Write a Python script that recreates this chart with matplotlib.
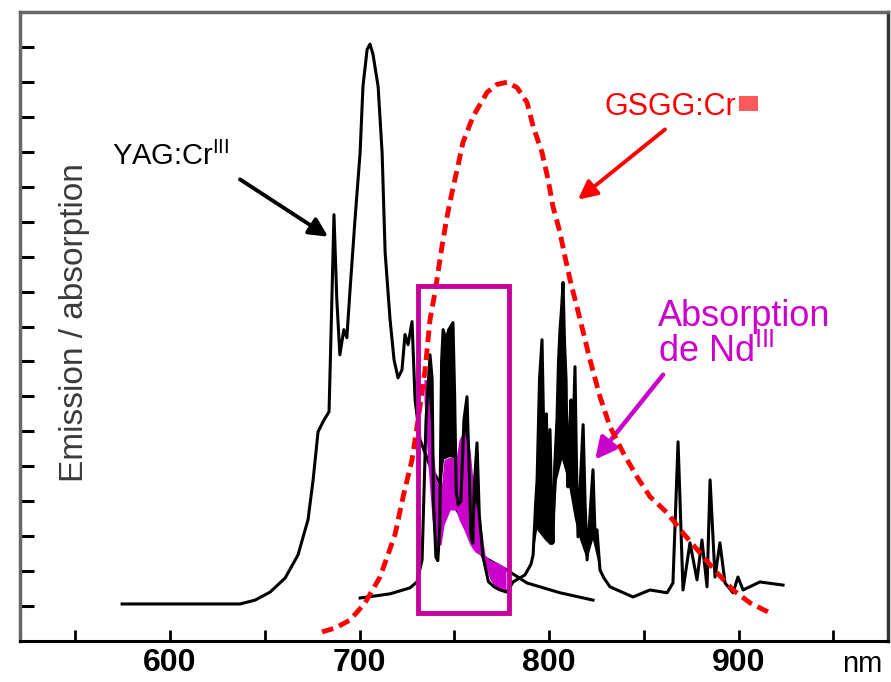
import numpy as np
import matplotlib
matplotlib.use("Agg")
import matplotlib.pyplot as plt
from matplotlib.patches import Rectangle

plt.rcParams['font.family'] = ['Liberation Sans', 'DejaVu Sans']
plt.rcParams['mathtext.default'] = 'regular'

#-----------------------------------------------------------------------------#
# data

# YAG:Cr emission (black)
yag_nm = [574.7, 636.9, 644.9, 652.8, 660.7, 667.5, 672.8, 675.5, 678.1, 681.3,
          683.9, 685.0, 686.5, 688.0, 689.6, 691.7, 693.3, 695.0, 697.6, 700.3,
          701.8, 704.0, 705.5, 707.1, 709.8, 711.9, 713.5, 716.1, 718.2, 720.3,
          722.4, 724.0, 725.6, 727.7, 729.3, 731.9, 737.2, 745.1, 753.0, 758.3,
          765.2, 777.8, 788.4, 805.8, 823.2]
yag_val = [1.06, 1.06, 1.17, 1.40, 1.80, 2.46, 3.47, 4.61, 5.99, 6.33,
           6.56, 8.91, 12.20, 9.77, 8.19, 8.91, 8.68, 10.06, 12.06, 13.98,
           15.87, 16.93, 17.08, 16.79, 15.87, 13.98, 11.12, 9.20, 8.05, 7.53,
           7.76, 8.77, 8.48, 9.14, 6.90, 5.76, 5.01, 4.27, 3.61, 3.04,
           2.41, 2.03, 1.66, 1.38, 1.17]

# Nd absorption (black)
nd_nm = [700.3, 716.1, 726.6, 730.3, 733.0, 735.1, 737.2, 738.3, 739.0, 740.3,
         741.3, 742.3, 743.3, 744.1, 745.7, 747.0, 749.3, 750.2, 751.0, 752.0,
         753.5, 755.1, 756.7, 757.8, 758.8, 759.8, 760.6, 762.0, 763.2, 765.2,
         768.0, 771.0, 774.1, 777.8, 781.0, 787.3, 790.5, 791.6, 793.0, 793.7,
         795.0, 796.3, 797.2, 797.9, 798.6, 799.4, 800.5, 801.3, 802.1, 803.0,
         804.2, 805.0, 805.8, 806.6, 807.4, 808.2, 809.0, 809.6, 810.0, 810.8,
         811.6, 812.5, 813.7, 814.5, 815.3, 816.5, 818.0, 819.0, 820.1, 821.5,
         823.2, 824.3, 825.3, 826.9, 829.0, 832.2, 844.3, 853.3, 862.3, 865.4,
         868.1, 870.7, 874.4, 878.1, 880.7, 883.4, 885.0, 887.6, 890.2, 892.9,
         897.1, 899.7, 902.4, 911.3, 923.5]
nd_val = [1.23, 1.35, 1.52, 1.69, 2.32, 6.33, 8.19, 7.50, 4.00, 2.40,
          2.30, 3.20, 8.00, 8.91, 8.62, 8.90, 9.11, 7.00, 4.30, 3.90,
          4.00, 6.33, 6.99, 5.00, 3.00, 2.80, 4.50, 5.67, 3.60, 2.40,
          1.70, 1.55, 1.46, 1.40, 1.69, 1.89, 2.20, 2.46, 4.00, 4.61,
          7.50, 8.62, 6.00, 5.20, 6.50, 4.50, 6.05, 4.00, 2.81, 5.00,
          6.33, 8.00, 8.91, 9.50, 10.26, 8.50, 7.48, 5.00, 4.41, 6.00,
          6.90, 5.50, 7.85, 5.00, 2.98, 4.50, 6.19, 4.00, 2.32, 3.50,
          4.90, 3.00, 3.18, 2.03, 1.80, 1.55, 1.26, 1.46, 1.38, 1.66,
          5.70, 1.46, 2.81, 1.75, 2.89, 1.55, 4.61, 1.83, 2.81, 1.66,
          1.38, 1.83, 1.46, 1.69, 1.60]

# magenta overlap band inside the window (upper and lower edge)
ovl_nm = [734.0, 736.1, 738.3, 740.4, 743.0, 744.6, 747.8, 750.9, 752.5, 755.1,
          758.3, 760.9, 763.6, 766.2, 768.9, 773.1, 777.3]
ovl_top = [7.48, 7.48, 5.76, 4.61, 4.33, 5.19, 5.27, 5.19, 5.76, 6.05,
           5.47, 4.04, 3.47, 2.46, 2.32, 2.23, 2.09]
ovl_low = [6.90, 5.04, 3.47, 2.75, 2.75, 3.32, 3.75, 3.75, 3.47, 3.18,
           2.75, 2.55, 2.46, 2.18, 1.75, 1.46, 1.40]

# lower edge of the dense 790-830 nm line cluster
clu_nm = [791.6, 793.7, 797.9, 800.5, 802.1, 804.2, 806.9, 810.0, 813.7, 816.4,
          820.1, 823.2, 826.9]
clu_floor = [2.46, 3.18, 2.89, 2.75, 2.75, 4.61, 5.19, 4.61, 3.47, 2.89,
             2.32, 2.89, 2.03]

# GSGG:Cr emission (red dashed)
gsgg_nm = [680.2, 687.1, 695.0, 702.9, 710.8, 718.7, 723.0, 727.7, 730.9, 734.6,
           737.2, 739.8, 743.5, 746.2, 748.8, 751.5, 754.6, 759.9, 767.3, 772.6,
           777.8, 783.1, 788.4, 791.6, 796.3, 799.5, 802.1, 805.8, 808.4, 811.1,
           816.4, 821.6, 826.9, 832.2, 839.1, 846.4, 853.3, 862.3, 870.7, 879.7,
           888.7, 897.1, 906.1, 915.6]
gsgg_val = [0.26, 0.37, 0.60, 1.09, 1.83, 3.04, 4.13, 5.19, 6.33, 7.76,
            9.20, 9.97, 11.29, 12.15, 12.84, 13.49, 14.27, 15.01, 15.70, 15.93,
            15.99, 15.84, 15.41, 14.73, 13.98, 13.21, 12.43, 11.69, 11.00, 10.34,
            9.20, 8.05, 6.99, 6.13, 5.39, 4.70, 4.13, 3.67, 3.09, 2.52,
            1.95, 1.46, 1.09, 0.83]

# highlighted window
box_nm = [730.9, 778.9]
box_val = [0.80, 10.17]

xticks_major = [600, 700, 800, 900]
xticks_minor = [550, 650, 750, 850, 950]
yticks = np.arange(1, 18)

red = '#FF0000'
mag = '#CC00CC'
boxcol = '#C8009B'

#-----------------------------------------------------------------------------#
# figure

fig = plt.figure(figsize=(8.91, 6.82), dpi=100)
ax = fig.add_axes([20/891, 41/682, 868/891, 629/682])
ax.set_xlim(520.8, 978.9)
ax.set_ylim(0, 18)

ax.plot(yag_nm, yag_val, '-', color='k', lw=2.2, zorder=2)

# window: magenta band, black where the Nd lines stick out above it
ax.fill_between(ovl_nm, ovl_low, ovl_top, color=mag, lw=0, zorder=3)
g1 = np.linspace(ovl_nm[0], ovl_nm[-1], 800)
top_i = np.interp(g1, ovl_nm, ovl_top)
ab1 = np.interp(g1, nd_nm, nd_val)
ax.fill_between(g1, top_i, ab1, where=ab1 > top_i, interpolate=True,
                color='k', lw=0, zorder=3)

# dense cluster 790-830 nm
g2 = np.linspace(clu_nm[0], clu_nm[-1], 800)
fl_i = np.interp(g2, clu_nm, clu_floor)
ab2 = np.interp(g2, nd_nm, nd_val)
ax.fill_between(g2, fl_i, ab2, where=ab2 > fl_i, interpolate=True,
                color='k', lw=0, zorder=3)

ax.plot(nd_nm, nd_val, '-', color='k', lw=2.2, zorder=3.5)
ax.plot(gsgg_nm, gsgg_val, '--', color=red, lw=3.5, dashes=(2.4, 1.3),
        dash_capstyle='butt', zorder=4)

ax.add_patch(Rectangle((box_nm[0], box_val[0]), box_nm[1]-box_nm[0],
                       box_val[1]-box_val[0], fill=False, ec=boxcol, lw=3.5,
                       zorder=5))

#-----------------------------------------------------------------------------#
# labels and arrows

ax.text(569.4, 13.87, 'YAG:Cr$^{III}$', fontsize=21, va='center', ha='left')
ax.annotate('', xy=(683.4, 11.57), xytext=(636.9, 13.21),
            arrowprops=dict(arrowstyle='-|>', color='k', lw=2.8,
                            mutation_scale=28, shrinkA=0, shrinkB=0))

ax.text(829.5, 15.27, 'GSGG:Cr', fontsize=22, color=red, va='center', ha='left')
ax.add_patch(Rectangle((900.3, 15.16), 10.0, 0.43, color='#FF5A5A', lw=0))
ax.annotate('', xy=(815.3, 12.63), xytext=(861.2, 14.64),
            arrowprops=dict(arrowstyle='-|>', color=red, lw=2.8,
                            mutation_scale=28, shrinkA=0, shrinkB=0))

ax.text(857.5, 9.28, 'Absorption', fontsize=26, color=mag, va='center', ha='left')
ax.text(857.5, 8.28, 'de Nd$^{III}$', fontsize=26, color=mag, va='center', ha='left')
ax.annotate('', xy=(824.3, 5.19), xytext=(860.2, 7.62),
            arrowprops=dict(arrowstyle='-|>', color=mag, lw=3.2,
                            mutation_scale=32, shrinkA=0, shrinkB=0))

ax.text(0.063, 0.507, 'Emission / absorption', transform=ax.transAxes,
        rotation=90, fontsize=24, color='#3a3a3a', ha='center', va='center')

#-----------------------------------------------------------------------------#
# axes styling

ax.set_xticks(xticks_major)
ax.set_xticklabels([str(v) for v in xticks_major], fontweight='bold')
ax.set_xticks(xticks_minor, minor=True)
ax.set_yticks(yticks)
ax.set_yticklabels([])
ax.tick_params(axis='x', which='both', direction='in', length=8, width=2,
               labelsize=23, pad=5)
ax.tick_params(axis='y', direction='in', length=10, width=2.2)
ax.text(0.947, -0.036, 'nm', transform=ax.transAxes, fontsize=21,
        ha='left', va='center', clip_on=False)

for s in ['left', 'top']:
    ax.spines[s].set_color('#666666')
    ax.spines[s].set_linewidth(2.5)
ax.spines['bottom'].set_color('k')
ax.spines['bottom'].set_linewidth(2.2)
ax.spines['right'].set_color('#333333')
ax.spines['right'].set_linewidth(2.5)

fig.savefig('out.png', dpi=100)
